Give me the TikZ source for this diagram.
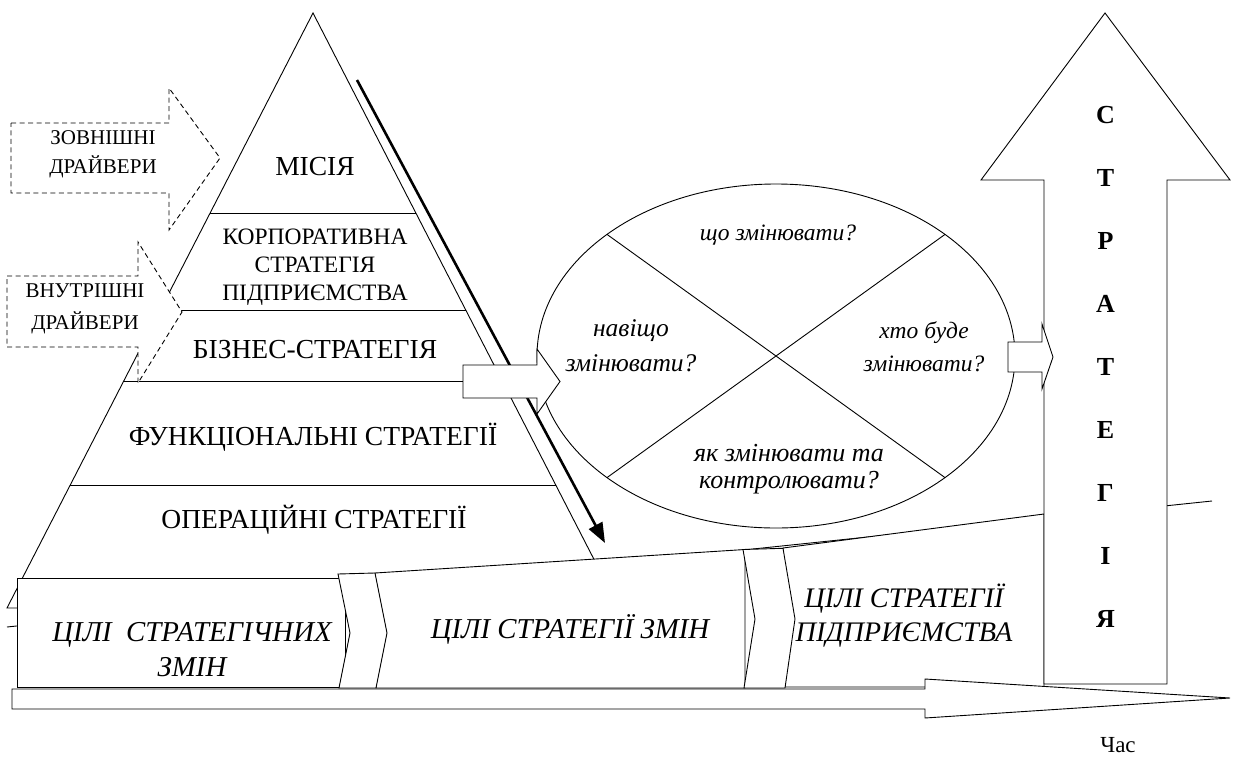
\documentclass[tikz,border=0pt]{standalone}
\usepackage{fontspec}
\IfFontExistsTF{LiberationSerif-Regular.ttf}{%
  \setmainfont{LiberationSerif-Regular.ttf}[BoldFont=LiberationSerif-Bold.ttf, ItalicFont=LiberationSerif-Italic.ttf, BoldItalicFont=LiberationSerif-BoldItalic.ttf]}{%
  \setmainfont{Liberation Serif}}
\usetikzlibrary{arrows.meta}
\begin{document}
\begin{tikzpicture}[x=1pt,y=-1pt, line width=0.9pt, line join=miter,
  blk/.style={draw, fill=white},
  drv/.style={draw, fill=white, dash pattern=on 5pt off 3.5pt},
  pyr/.style={inner sep=0pt, align=center, font=\rmfamily\fontsize{27.5}{30}\selectfont},
  corp/.style={inner sep=0pt, align=center, font=\rmfamily\fontsize{23.5}{28}\selectfont},
  drvtxt/.style={inner sep=0pt, align=center, font=\rmfamily\fontsize{21}{29}\selectfont},
  qtxt/.style={inner sep=0pt, align=center, font=\rmfamily\fontsize{23.5}{34}\selectfont\itshape},
  goal/.style={inner sep=0pt, align=center, font=\rmfamily\fontsize{28.8}{35}\selectfont\itshape},
  letter/.style={inner sep=0pt, font=\rmfamily\fontsize{26}{28}\selectfont\bfseries},
  thick arrow/.style={line width=2.6pt, -{Triangle[length=20pt,width=15pt]}}]
\useasboundingbox (0,0) rectangle (1235,758);

% line behind everything
\coordinate (bgA) at (7,627);
\coordinate (bgB) at (1212,501);
\draw (bgA) -- (bgB);

% pyramid
\coordinate (apex) at (313,13);
\coordinate (pl) at (7,608);
\coordinate (pr) at (619,608);
\draw[blk] (apex) -- (pr) -- (pl) -- cycle;
\draw (210.1,213) -- (415.9,213);
\draw (160.3,310) -- (465.7,310);
\draw (123.7,381.5) -- (502.3,381.5);
\draw (70.3,485) -- (555.7,485);

\node[pyr] (mis) at (315,167) {МІСІЯ};
\node[corp] (corp) at (315,267) {КОРПОРАТИВНА\\СТРАТЕГІЯ\\ПІДПРИЄМСТВА};
\node[pyr] (bus) at (315,350) {БІЗНЕС-СТРАТЕГІЯ};
\node[pyr] (fun) at (313,437) {ФУНКЦІОНАЛЬНІ СТРАТЕГІЇ};
\node[pyr] (ops) at (314,520) {ОПЕРАЦІЙНІ СТРАТЕГІЇ};

% thick arrow along the pyramid
\coordinate (taS) at (357,80);
\coordinate (taE) at (605,543);
\draw[thick arrow] (taS) -- (taE);

% dashed driver arrows
\draw[drv] (11,123) -- (169,123) -- (169,88) -- (220,158) -- (169,230) -- (169,193) -- (11,193) -- cycle;
\node[drvtxt] (ext) at (103,154) {ЗОВНІШНІ\\ДРАЙВЕРИ};
\draw[drv] (7,276) -- (138,276) -- (138,242) -- (182,312) -- (138,383) -- (138,347) -- (7,347) -- cycle;
\node[drvtxt, font=\rmfamily\fontsize{21}{32}\selectfont] (int) at (85,309) {ВНУТРІШНІ\\ДРАЙВЕРИ};

% ellipse
\draw[blk] (776,356) ellipse [x radius=239, y radius=172];
\coordinate (eUL) at (607,234.4);
\coordinate (eUR) at (945,234.4);
\coordinate (eLL) at (607,477.6);
\coordinate (eLR) at (945,477.6);
\draw (eUL) -- (eLR);
\draw (eLL) -- (eUR);
\node[qtxt] (q1) at (778,235) {що змінювати?};
\node[qtxt, font=\rmfamily\fontsize{25.5}{35}\selectfont\itshape] (q2) at (631,346) {навіщо\\змінювати?};
\node[qtxt, font=\rmfamily\fontsize{23.5}{33}\selectfont\itshape] (q3) at (924,347) {хто буде\\змінювати?};
\node[qtxt, font=\rmfamily\fontsize{26}{27}\selectfont\itshape] (q4) at (789,469) {як змінювати та\\контролювати?};

% hollow arrow business -> ellipse
\draw[blk] (463,365) -- (537,365) -- (537,349) -- (560,381.5) -- (537,414) -- (537,398) -- (463,398) -- cycle;

% goal boxes
\draw[blk] (17,578) rectangle (345,687);
\draw[blk] (375,573) -- (745,549.5) -- (745,688) -- (376,688) -- cycle;
\draw[blk] (783,548) -- (1044,514) -- (1044,687) -- (785,687) -- cycle;
\draw[blk] (338,574) -- (375,573) -- (387,633) -- (376,688) -- (339,688) -- (350,633) -- cycle;
\draw[blk] (743,549.5) -- (783,548.3) -- (795,619) -- (785,688) -- (744,688) -- (755,619) -- cycle;
\node[goal] (g1) at (192,650) {ЦІЛІ\ \ СТРАТЕГІЧНИХ\\ЗМІН};
\node[goal] (g2) at (570,629) {ЦІЛІ СТРАТЕГІЇ ЗМІН};
\node[goal, font=\rmfamily\fontsize{28.3}{34}\selectfont\itshape] (g3) at (904,616) {ЦІЛІ СТРАТЕГІЇ\\ПІДПРИЄМСТВА};

% strategy up arrow
\draw[blk] (1044,684) -- (1044,180) -- (981,180) -- (1105,13) -- (1230,180) -- (1167,180) -- (1167,684) -- cycle;
\foreach \ch [count=\i from 0] in {С,Т,Р,А,Т,Е,Г,І,Я}
  \node[letter] (s\i) at (1105.5,115+63*\i) {\ch};

% small hollow arrow ellipse -> strategy
\draw[blk] (1008,342) -- (1042,342) -- (1042,324) -- (1053,357) -- (1042,389) -- (1042,372) -- (1008,372) -- cycle;

% time arrow
\draw[blk] (12,689) -- (925,689) -- (925,679) -- (1230,698) -- (925,718) -- (925,709) -- (12,709) -- cycle;
\node[inner sep=0pt, font=\rmfamily\fontsize{23}{25}\selectfont] (time) at (1118,745) {Час};
\end{tikzpicture}
\end{document}
